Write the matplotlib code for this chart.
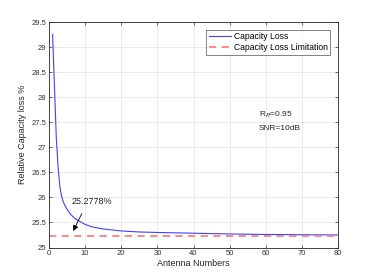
import numpy as np
import matplotlib.pyplot as plt

# values
antennas = [1, 2, 2.5, 3, 3.5, 4, 5, 6, 7, 8, 10, 12, 15, 20, 25, 30, 40, 50, 60, 70, 80]
capacity_loss = [29.25, 27.22, 26.62, 26.22, 26.02, 25.90, 25.76, 25.66, 25.59,
                 25.54, 25.46, 25.41, 25.37, 25.33, 25.31, 25.30, 25.285, 25.27,
                 25.26, 25.255, 25.25]
loss_limit = 25.2222
x_ticks = list(range(0, 81, 10))
y_ticks = [25, 25.5, 26, 26.5, 27, 27.5, 28, 28.5, 29, 29.5]

plt.rcParams['font.family'] = ['Liberation Sans', 'DejaVu Sans']

fig = plt.figure(figsize=(3.74, 2.79), dpi=100)
ax = fig.add_axes([49 / 374, 1 - 247.5 / 279, 289 / 374, 225.5 / 279])

ax.plot(antennas, capacity_loss, color='#4040ff', lw=0.8, label='Capacity Loss')
ax.plot([0, 80], [loss_limit, loss_limit], color='#ff8080', lw=1.3,
        ls=(0, (4, 3)), label='Capacity Loss Limitation')

ax.set_xlim(0, 80)
ax.set_ylim(25, 29.5)
ax.set_xticks(x_ticks)
ax.set_yticks(y_ticks)
ax.set_yticklabels(['25', '25.5', '26', '26.5', '27', '27.5', '28', '28.5', '29', '29.5'])
ax.grid(True, color='#e6e6e6', lw=0.6)
ax.set_axisbelow(True)
ax.tick_params(direction='in', length=2.5, width=0.5, labelsize=5.5,
               top=True, right=True, colors='#333333', pad=2)
for s in ax.spines.values():
    s.set_linewidth(0.6)
    s.set_color('#262626')

ax.set_xlabel('Antenna Numbers', fontsize=6.5, color='#262626', labelpad=1)
ax.set_ylabel('Relative Capacity loss %', fontsize=6.5, color='#262626', labelpad=3)

leg = ax.legend(loc='upper right', fontsize=6.2, frameon=True, fancybox=False,
                edgecolor='#262626', borderpad=0.3, handlelength=2.6,
                handletextpad=0.3, labelspacing=0.2, borderaxespad=0.9)
leg.get_frame().set_linewidth(0.5)

ax.text(62.7, 27.64, r'R$_{ff}$=0.95', fontsize=6, ha='center', va='center', color='#262626')
ax.text(63.9, 27.38, 'SNR=10dB', fontsize=6, ha='center', va='center', color='#262626')

ax.annotate('25.2778%', xy=(6.7, 25.33), xytext=(6.2, 25.92), fontsize=6.5,
            color='#262626', ha='left', va='center',
            arrowprops=dict(arrowstyle='-|>', color='black', lw=0.6,
                            mutation_scale=8, shrinkA=4, shrinkB=0,
                            relpos=(0.35, 0)))

fig.savefig('out.png', dpi=100)
